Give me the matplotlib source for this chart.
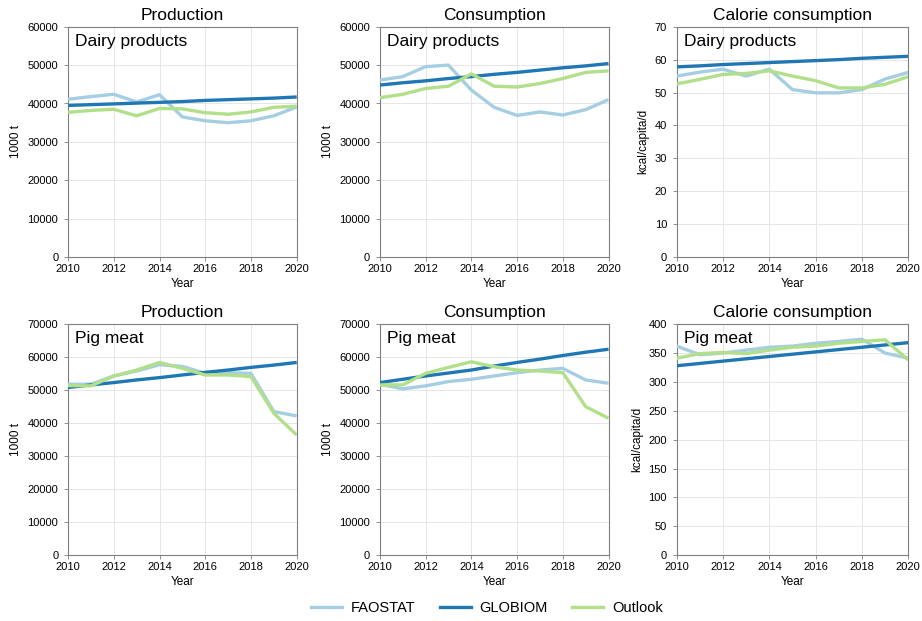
import numpy as np
import matplotlib
matplotlib.use('Agg')
import matplotlib.pyplot as plt
from matplotlib.lines import Line2D

plt.rcParams['font.family'] = ['Liberation Sans', 'DejaVu Sans']

years = list(range(2010, 2021))
series_names = ['FAOSTAT', 'GLOBIOM', 'Outlook']
colors = ['#a6cee3', '#1f78b4', '#b2df8a']

titles = ['Production', 'Consumption', 'Calorie consumption']
products = ['Dairy products', 'Pig meat']
ylabels = ['1000 t', '1000 t', 'kcal/capita/d']

# dairy products
dairy_prod_fao = [41100, 41800, 42400, 40400, 42300, 36500, 35500, 35000, 35500, 36800, 39100]
dairy_prod_glo = [39500, 39700, 39900, 40100, 40300, 40500, 40800, 41000, 41200, 41400, 41700]
dairy_prod_out = [37700, 38200, 38500, 36800, 38700, 38600, 37600, 37200, 37800, 39000, 39300]

dairy_cons_fao = [46100, 47000, 49600, 50000, 43500, 39000, 36900, 37800, 37000, 38400, 41000]
dairy_cons_glo = [44800, 45400, 45900, 46500, 47000, 47600, 48100, 48700, 49300, 49800, 50400]
dairy_cons_out = [41500, 42400, 43900, 44500, 47700, 44500, 44300, 45200, 46500, 48100, 48500]

dairy_cal_fao = [55.0, 56.2, 57.1, 55.0, 57.1, 50.9, 49.9, 49.9, 50.9, 54.1, 56.1]
dairy_cal_glo = [57.8, 58.1, 58.5, 58.8, 59.1, 59.4, 59.7, 60.0, 60.4, 60.7, 61.0]
dairy_cal_out = [52.6, 54.0, 55.5, 55.8, 56.6, 55.0, 53.6, 51.4, 51.4, 52.5, 54.8]

# pig meat
pig_prod_fao = [51800, 51800, 54300, 55800, 57700, 57200, 55100, 55300, 55100, 43500, 42200]
pig_prod_glo = [50800, 51600, 52300, 53100, 53800, 54600, 55400, 56100, 56900, 57600, 58400]
pig_prod_out = [51400, 51300, 54300, 56100, 58400, 56600, 54600, 54600, 54100, 43000, 36400]

pig_cons_fao = [51800, 50400, 51300, 52600, 53300, 54300, 55300, 56100, 56600, 53100, 52100]
pig_cons_glo = [52300, 53300, 54300, 55200, 56100, 57300, 58400, 59400, 60500, 61500, 62400]
pig_cons_out = [51600, 51600, 55100, 56900, 58600, 57100, 56100, 55800, 55300, 45000, 41500]

pig_cal_fao = [362, 347, 350, 355, 360, 362, 367, 370, 374, 350, 341]
pig_cal_glo = [328, 332, 336, 340, 344, 348, 352, 356, 360, 364, 368]
pig_cal_out = [341, 349, 351, 349, 355, 360, 362, 367, 370, 373, 338]

panels = [
    [(dairy_prod_fao, dairy_prod_glo, dairy_prod_out), (dairy_cons_fao, dairy_cons_glo, dairy_cons_out),
     (dairy_cal_fao, dairy_cal_glo, dairy_cal_out)],
    [(pig_prod_fao, pig_prod_glo, pig_prod_out), (pig_cons_fao, pig_cons_glo, pig_cons_out),
     (pig_cal_fao, pig_cal_glo, pig_cal_out)],
]
ylims = [[(0, 60000, 10000), (0, 60000, 10000), (0, 70, 10)],
         [(0, 70000, 10000), (0, 70000, 10000), (0, 400, 50)]]

fig = plt.figure(figsize=(9.22, 6.21), dpi=100)

lefts = [0.0738, 0.412, 0.734]
widths = [0.248, 0.248, 0.251]
bottoms = [0.586, 0.106]
heights = [0.371, 0.372]

for r in range(2):
    for c in range(3):
        ax = fig.add_axes([lefts[c], bottoms[r], widths[c], heights[r]])
        for k in range(3):
            ax.plot(years, panels[r][c][k], color=colors[k], lw=2.4, solid_capstyle='butt', zorder=3 + (k == 2))
        lo, hi, step = ylims[r][c]
        ax.set_ylim(lo, hi)
        ax.set_yticks(np.arange(lo, hi + step / 2, step))
        ax.set_xlim(2010, 2020)
        ax.set_xticks([2010, 2012, 2014, 2016, 2018, 2020])
        ax.grid(True, color='#e6e6e6', lw=0.7)
        ax.set_axisbelow(True)
        for s in ax.spines.values():
            s.set_color('#7f7f7f')
            s.set_linewidth(0.8)
        ax.tick_params(labelsize=8, length=3, width=0.6, color='#7f7f7f', pad=2)
        ax.tick_params(axis='y', pad=4)
        ax.set_title(titles[c], fontsize=12.5, pad=5)
        ax.set_xlabel('Year', fontsize=8.5, labelpad=3)
        ax.set_ylabel(ylabels[c], fontsize=8.5, labelpad=4)
        ax.annotate(products[r], xy=(0, 1), xycoords='axes fraction', xytext=(5, -5),
                    textcoords='offset points', ha='left', va='top', fontsize=12.5)

handles = [Line2D([], [], color=colors[k], lw=2.4) for k in range(3)]
fig.legend(handles, series_names, loc='center', bbox_to_anchor=(0.528, 0.021), ncol=3,
           frameon=False, fontsize=10.5, handlelength=2.1, handletextpad=0.6, columnspacing=1.7)

fig.savefig('out.png', dpi=100)
